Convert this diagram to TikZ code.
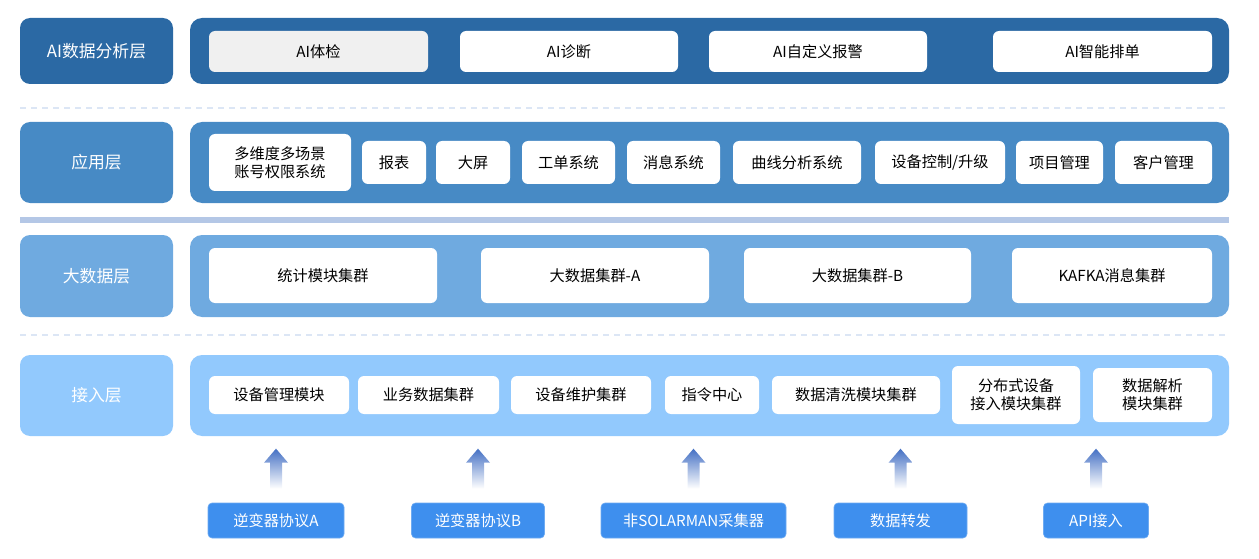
\documentclass[tikz,border=0pt]{standalone}
\usepackage{fontspec}
\setmainfont{Noto Sans CJK SC}
\usetikzlibrary{positioning, calc}
\definecolor{aiblue}{RGB}{43,105,164}
\definecolor{appblue}{RGB}{71,138,197}
\definecolor{bigblue}{RGB}{111,170,224}
\definecolor{accblue}{RGB}{146,201,253}
\definecolor{srcblue}{RGB}{62,143,238}
\definecolor{arrblue}{RGB}{68,112,196}
\definecolor{sepgray}{RGB}{220,230,245}
\definecolor{sepblue}{RGB}{180,199,230}
\definecolor{boxgray}{RGB}{240,240,240}
% shaded up arrow above a source box
\newcommand{\srcarrow}[1]{%
  \shade[top color=arrblue, bottom color=white]
    ($(#1.north)+(-6,-14)$) -- ++(0,-26) -- ++(-6,0) -- ++(12,-14)
    -- ++(12,14) -- ++(-6,0) -- ++(0,26) -- cycle;}

\begin{document}
\begin{tikzpicture}[x=1pt, y=-1pt,
    lbl/.style={rectangle, rounded corners=10pt, inner sep=0pt, minimum width=153pt,
                text=white, font=\fontsize{16.8}{19}\selectfont},
    lane/.style={rectangle, rounded corners=12pt, inner sep=0pt, minimum width=1039pt},
    mod/.style={rectangle, fill=white, rounded corners=6pt, inner sep=0pt, align=center,
                font=\fontsize{15.2}{18}\selectfont},
    src/.style={rectangle, fill=srcblue, draw=srcblue!75!white, line width=0.6pt,
                rounded corners=4pt, inner sep=0pt, minimum height=35pt, text=white,
                font=\fontsize{15.2}{18}\selectfont},
    dsep/.style={sepgray, line width=2pt, dash pattern=on 6pt off 5pt}]
  \useasboundingbox (0,0) rectangle (1259,559);

  % AI layer
  \node[lbl, fill=aiblue, minimum height=66pt] (l1) at (96.5,51) {AI数据分析层};
  \node[lane, fill=aiblue, minimum height=66pt] (c1) at (709.5,51) {};
  \node[mod, fill=boxgray, minimum width=219pt, minimum height=41pt] (ai1) at (318.5,51.5) {AI体检};
  \node[mod, minimum width=218pt, minimum height=41pt] (ai2) at (569,51.5) {AI诊断};
  \node[mod, minimum width=218pt, minimum height=41pt] (ai3) at (818,51.5) {AI自定义报警};
  \node[mod, minimum width=219pt, minimum height=41pt] (ai4) at (1102.5,51.5) {AI智能排单};

  \draw[dsep] (20,108) -- (1229,108);

  % application layer
  \node[lbl, fill=appblue, minimum height=81pt] (l2) at (96.5,162.5) {应用层};
  \node[lane, fill=appblue, minimum height=81pt] (c2) at (709.5,162.5) {};
  \node[mod, minimum width=142pt, minimum height=57pt] (app1) at (280,162.5) {多维度多场景\\账号权限系统};
  \node[mod, minimum width=64pt, minimum height=43pt] (app2) at (394,162.5) {报表};
  \node[mod, minimum width=74pt, minimum height=43pt] (app3) at (473,162.5) {大屏};
  \node[mod, minimum width=93pt, minimum height=43pt] (app4) at (568.5,162.5) {工单系统};
  \node[mod, minimum width=93pt, minimum height=43pt] (app5) at (673.5,162.5) {消息系统};
  \node[mod, minimum width=128pt, minimum height=43pt] (app6) at (797,162.5) {曲线分析系统};
  \node[mod, minimum width=130pt, minimum height=43pt] (app7) at (940,162.5) {设备控制/升级};
  \node[mod, minimum width=87pt, minimum height=43pt] (app8) at (1059.5,162.5) {项目管理};
  \node[mod, minimum width=97pt, minimum height=43pt] (app9) at (1163.5,162.5) {客户管理};

  \fill[sepblue] (20,217) rectangle (1229,223);

  % big data layer
  \node[lbl, fill=bigblue, minimum height=82pt] (l3) at (96.5,276) {大数据层};
  \node[lane, fill=bigblue, minimum height=82pt] (c3) at (709.5,276) {};
  \node[mod, minimum width=228pt, minimum height=55pt] (bd1) at (323,275.5) {统计模块集群};
  \node[mod, minimum width=228pt, minimum height=55pt] (bd2) at (595,275.5) {大数据集群-A};
  \node[mod, minimum width=227pt, minimum height=55pt] (bd3) at (857.5,275.5) {大数据集群-B};
  \node[mod, minimum width=200pt, minimum height=55pt] (bd4) at (1112,275.5) {KAFKA消息集群};

  \draw[dsep] (20,335) -- (1229,335);

  % access layer
  \node[lbl, fill=accblue, minimum height=81pt] (l4) at (96.5,395.5) {接入层};
  \node[lane, fill=accblue, minimum height=81pt] (c4) at (709.5,395.5) {};
  \node[mod, minimum width=140pt, minimum height=38pt] (acc1) at (279,395) {设备管理模块};
  \node[mod, minimum width=141pt, minimum height=38pt] (acc2) at (428.5,395) {业务数据集群};
  \node[mod, minimum width=140pt, minimum height=38pt] (acc3) at (581,395) {设备维护集群};
  \node[mod, minimum width=94pt, minimum height=38pt] (acc4) at (712,395) {指令中心};
  \node[mod, minimum width=168pt, minimum height=38pt] (acc5) at (856,395) {数据清洗模块集群};
  \node[mod, minimum width=128pt, minimum height=58pt] (acc6) at (1016,395) {分布式设备\\接入模块集群};
  \node[mod, minimum width=119pt, minimum height=54pt] (acc7) at (1152.5,395) {数据解析\\模块集群};

  % sources
  \node[src, minimum width=136pt] (p1) at (276,520.5) {逆变器协议A};
  \node[src, minimum width=133pt] (p2) at (478,520.5) {逆变器协议B};
  \node[src, minimum width=185pt] (p3) at (693.5,520.5) {非SOLARMAN采集器};
  \node[src, minimum width=133pt] (p4) at (900.5,520.5) {数据转发};
  \node[src, minimum width=105pt] (p5) at (1096,520.5) {API接入};

  \srcarrow{p1}
  \srcarrow{p2}
  \srcarrow{p3}
  \srcarrow{p4}
  \srcarrow{p5}
\end{tikzpicture}
\end{document}
